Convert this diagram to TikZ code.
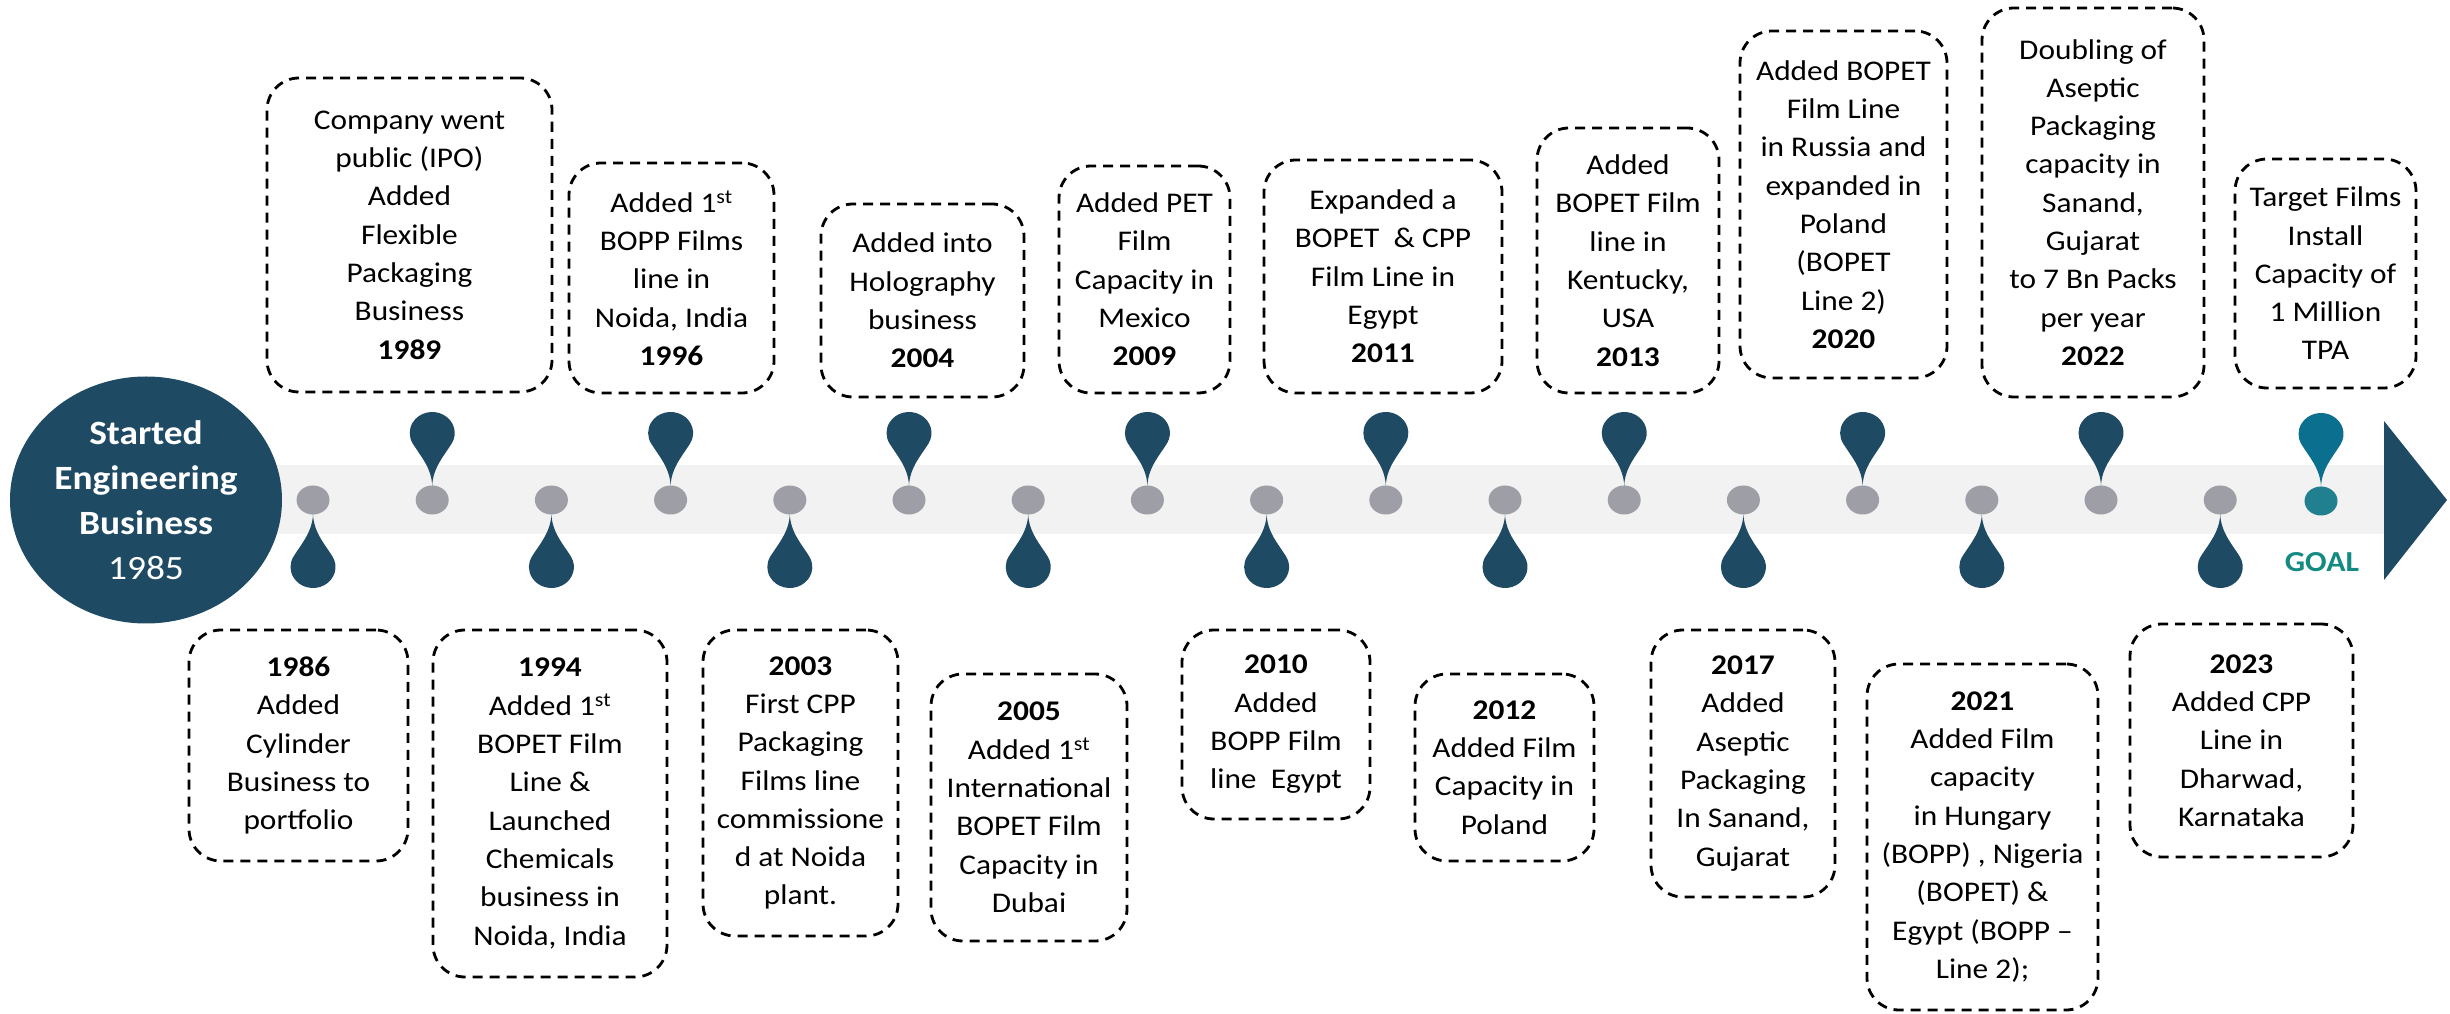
\documentclass[tikz,border=0pt]{standalone}
\usepackage{fontspec}
\setmainfont{Carlito}[FakeStretch=1.1]
\usetikzlibrary{shapes.geometric}
\definecolor{navy}{HTML}{1F4A64}
\definecolor{dotgray}{HTML}{9E9EA6}
\definecolor{bandgray}{HTML}{F2F2F2}
\definecolor{goalblue}{HTML}{0B6F8F}
\definecolor{goaldot}{HTML}{218090}
\definecolor{goalgreen}{HTML}{138A82}

\begin{document}
\begin{tikzpicture}
      [ x=1pt, y=1pt
      , event/.style={draw, dash pattern=on 10pt off 7pt, line width=2.8pt, rounded corners=32pt, align=center, inner sep=0pt, font=\fontsize{28.5}{38.3}\selectfont}
      , milestone/.style={ellipse, fill=dotgray, minimum width=33pt, minimum height=29pt, inner sep=0pt}
      , dropup/.style={fill=navy}
      , dropdown/.style={fill=navy, yscale=-1}
      , drop/.pic={\fill (0,14) .. controls (0.5,32) and (12,44.5) .. (19.5,56.5) arc[start angle=-30, end angle=210, x radius=22.5, y radius=21] .. controls (-12,44.5) and (-0.5,32) .. (0,14) -- cycle;}
      ]
    \useasboundingbox (0,0) rectangle (2450,1013);

    % timeline band and arrow
    \fill[bandgray] (146,479) rectangle (2384,548);
    \fill[navy] (2384,592) -- (2447,513) -- (2384,433) -- cycle;
    \node[ellipse, fill=navy, text=white, minimum width=272pt, minimum height=247pt, align=center, font=\fontsize{34}{45}\selectfont] (start) at (146,513)
      {\textbf{Started}\\\textbf{Engineering}\\\textbf{Business}\\1985};

    % milestones
    \node[milestone] (p1986) at (313,513) {};    \pic[dropdown] at (p1986) {drop};
    \node[milestone] (p1989) at (432.2,513) {};  \pic[dropup] at (p1989) {drop};
    \node[milestone] (p1994) at (551.4,513) {};  \pic[dropdown] at (p1994) {drop};
    \node[milestone] (p1996) at (670.6,513) {};  \pic[dropup] at (p1996) {drop};
    \node[milestone] (p2003) at (789.8,513) {};  \pic[dropdown] at (p2003) {drop};
    \node[milestone] (p2004) at (909,513) {};    \pic[dropup] at (p2004) {drop};
    \node[milestone] (p2005) at (1028.2,513) {}; \pic[dropdown] at (p2005) {drop};
    \node[milestone] (p2009) at (1147.4,513) {}; \pic[dropup] at (p2009) {drop};
    \node[milestone] (p2010) at (1266.6,513) {}; \pic[dropdown] at (p2010) {drop};
    \node[milestone] (p2011) at (1385.8,513) {}; \pic[dropup] at (p2011) {drop};
    \node[milestone] (p2012) at (1505,513) {};   \pic[dropdown] at (p2012) {drop};
    \node[milestone] (p2013) at (1624.2,513) {}; \pic[dropup] at (p2013) {drop};
    \node[milestone] (p2017) at (1743.4,513) {}; \pic[dropdown] at (p2017) {drop};
    \node[milestone] (p2020) at (1862.6,513) {}; \pic[dropup] at (p2020) {drop};
    \node[milestone] (p2021) at (1981.8,513) {}; \pic[dropdown] at (p2021) {drop};
    \node[milestone] (p2022) at (2101,513) {};   \pic[dropup] at (p2022) {drop};
    \node[milestone] (p2023) at (2220.2,513) {}; \pic[dropdown] at (p2023) {drop};
    \node[milestone, fill=goaldot] (pgoal) at (2321,512) {};
    \pic[fill=goalblue] at (pgoal) {drop};
    \node[text=goalgreen, font=\bfseries\fontsize{29}{35}\selectfont] (goal) at (2322,451) {GOAL};

    % events above the line
    \node[event, minimum width=285pt, minimum height=314pt] (e1989) at (409.5,778)
      {Company went\\public (IPO)\\Added\\Flexible\\Packaging\\Business\\\textbf{1989}};
    \node[event, minimum width=205pt, minimum height=230pt] (e1996) at (671.5,735)
      {Added 1\textsuperscript{st}\\BOPP Films\\line in\\Noida, India\\\textbf{1996}};
    \node[event, minimum width=203pt, minimum height=193pt] (e2004) at (922.5,712.5)
      {Added into\\Holography\\business\\\textbf{2004}};
    \node[event, minimum width=171pt, minimum height=227pt] (e2009) at (1144.5,733.5)
      {Added PET\\Film\\Capacity in\\Mexico\\\textbf{2009}};
    \node[event, minimum width=238pt, minimum height=233pt] (e2011) at (1383,736.5)
      {Expanded a\\BOPET\ \ \& CPP\\Film Line in\\Egypt\\\textbf{2011}};
    \node[event, minimum width=182pt, minimum height=265pt] (e2013) at (1628,752.5)
      {Added\\BOPET Film\\line in\\Kentucky,\\USA\\\textbf{2013}};
    \node[event, minimum width=207pt, minimum height=347pt] (e2020) at (1843.5,808.5)
      {Added BOPET\\Film Line\\in Russia and\\expanded in\\Poland\\(BOPET\\Line 2)\\\textbf{2020}};
    \node[event, minimum width=222pt, minimum height=389pt] (e2022) at (2093,810.5)
      {Doubling of\\Aseptic\\Packaging\\capacity in\\Sanand,\\Gujarat\\to 7 Bn Packs\\per year\\\textbf{2022}};
    \node[event, minimum width=181pt, minimum height=229pt] (etarget) at (2325.5,739.5)
      {Target Films\\Install\\Capacity of\\1 Million\\TPA};

    % events below the line
    \node[event, minimum width=219pt, minimum height=231pt] (e1986) at (298.5,267.5)
      {\textbf{1986}\\Added\\Cylinder\\Business to\\portfolio};
    \node[event, minimum width=234pt, minimum height=347pt] (e1994) at (550,209.5)
      {\textbf{1994}\\Added 1\textsuperscript{st}\\BOPET Film\\Line \&\\Launched\\Chemicals\\business in\\Noida, India};
    \node[event, minimum width=195pt, minimum height=306pt] (e2003) at (800.5,230)
      {\textbf{2003}\\First CPP\\Packaging\\Films line\\commissione\\d at Noida\\plant.};
    \node[event, minimum width=196pt, minimum height=267pt] (e2005) at (1029,205.5)
      {\textbf{2005}\\Added 1\textsuperscript{st}\\International\\BOPET Film\\Capacity in\\Dubai};
    \node[event, minimum width=188pt, minimum height=189pt] (e2010) at (1276,288.5)
      {\textbf{2010}\\Added\\BOPP Film\\line\ \ Egypt};
    \node[event, minimum width=179pt, minimum height=187pt] (e2012) at (1504.5,245.5)
      {\textbf{2012}\\Added Film\\Capacity in\\Poland};
    \node[event, minimum width=184pt, minimum height=267pt] (e2017) at (1743,249.5)
      {\textbf{2017}\\Added\\Aseptic\\Packaging\\In Sanand,\\Gujarat};
    \node[event, minimum width=231pt, minimum height=346pt] (e2021) at (1982.5,176)
      {\textbf{2021}\\Added Film\\capacity\\in Hungary\\(BOPP) , Nigeria\\(BOPET) \&\\Egypt (BOPP --\\Line 2);};
    \node[event, minimum width=223pt, minimum height=233pt] (e2023) at (2241.5,272.5)
      {\textbf{2023}\\Added CPP\\Line in\\Dharwad,\\Karnataka};
    \end{tikzpicture}
\end{document}
